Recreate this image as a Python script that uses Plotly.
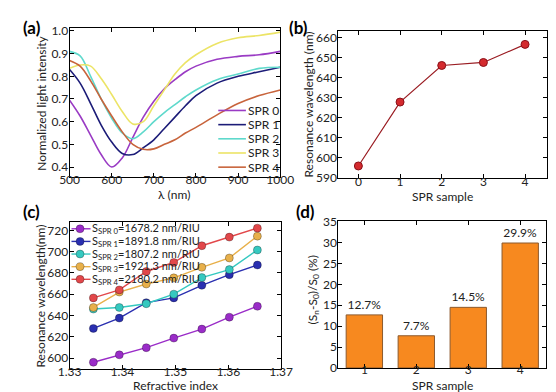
import plotly.graph_objects as go

# ---------- data ----------
wavelength = [500, 525, 550, 575, 600, 625, 650, 675, 700, 725, 750, 775, 800, 850, 900, 950, 1000]
spr0_int = [0.695, 0.625, 0.54, 0.455, 0.40, 0.44, 0.53, 0.62, 0.69, 0.745, 0.785, 0.82, 0.845, 0.875, 0.888, 0.895, 0.91]
spr1_int = [0.83, 0.77, 0.68, 0.585, 0.51, 0.46, 0.455, 0.485, 0.52, 0.57, 0.62, 0.67, 0.715, 0.77, 0.80, 0.82, 0.84]
spr2_int = [0.91, 0.89, 0.80, 0.70, 0.615, 0.55, 0.525, 0.555, 0.60, 0.64, 0.675, 0.71, 0.74, 0.785, 0.81, 0.835, 0.84]
spr3_int = [0.835, 0.85, 0.845, 0.79, 0.72, 0.645, 0.59, 0.60, 0.67, 0.74, 0.81, 0.86, 0.895, 0.945, 0.97, 0.98, 0.995]
spr4_int = [0.87, 0.845, 0.78, 0.70, 0.625, 0.555, 0.50, 0.478, 0.48, 0.50, 0.52, 0.55, 0.575, 0.63, 0.68, 0.715, 0.74]
spectra_names = ["SPR 0", "SPR 1", "SPR 2", "SPR 3", "SPR 4"]

samples = [0, 1, 2, 3, 4]
resonance = [596, 627.8, 646, 647.5, 656.5]

ref_index = [1.3345, 1.3394, 1.3445, 1.3497, 1.3550, 1.3602, 1.3655]
spr0_res = [596, 603, 609.7, 618.7, 627.2, 638.4, 648.6]
spr1_res = [627.8, 637.5, 652, 656.5, 668.3, 678.3, 687.4]
spr2_res = [646, 647.5, 651, 660, 675.6, 683.1, 701.5]
spr3_res = [647.5, 662, 669.5, 675.3, 685.2, 694, 714.5]
spr4_res = [656.5, 664, 681.3, 689.8, 705.5, 713.6, 722]
sens_labels = ["1678.2", "1891.8", "1807.2", "1921.3", "2180.2"]

bar_samples = [1, 2, 3, 4]
enhancement = [12.7, 7.7, 14.5, 29.9]

# ---------- styling ----------
W, H = 556, 392
FONT = "Lato"
a_colors = ["#9a3bc4", "#1c1c78", "#5fd9cc", "#ece466", "#c8643c"]
c_colors = ["#9a2cc8", "#2a2fb0", "#35c9c0", "#e8b04a", "#e2474a"]

def px_x(a, b):
    return [a / W, b / W]

def px_y(top, bottom):
    return [1 - bottom / H, 1 - top / H]

fig = go.Figure()

# Panel (a)
for name, ys, col in zip(spectra_names,
                         [spr0_int, spr1_int, spr2_int, spr3_int, spr4_int], a_colors):
    fig.add_trace(go.Scatter(x=wavelength, y=ys, mode="lines", name=name, showlegend=False,
                             line=dict(color=col, width=1.6, shape="spline", smoothing=1.0),
                             xaxis="x", yaxis="y"))

# Panel (b)
fig.add_trace(go.Scatter(x=samples, y=resonance, mode="lines+markers", showlegend=False,
                         line=dict(color="#9a1c22", width=1.2),
                         marker=dict(color="#d42a2e", size=8, line=dict(color="#8a1018", width=1)),
                         xaxis="x2", yaxis="y2"))

# Panel (c)
c_names = [f"S<sub>SPR {i}</sub>={s} nm/RIU" for i, s in enumerate(sens_labels)]
for ys, col, nm in zip([spr0_res, spr1_res, spr2_res, spr3_res, spr4_res], c_colors, c_names):
    fig.add_trace(go.Scatter(x=ref_index, y=ys, mode="lines+markers", name=nm, showlegend=False,
                             line=dict(color=col, width=1.4),
                             marker=dict(color=col, size=8, line=dict(color="rgba(0,0,0,0.35)", width=0.8)),
                             xaxis="x3", yaxis="y3"))

# Panel (d)
fig.add_trace(go.Bar(x=bar_samples, y=enhancement, width=0.7, showlegend=False,
                     marker=dict(color="#f7891f", line=dict(color="#8c5a2e", width=1)),
                     text=[f"{v}%" for v in enhancement], textposition="outside",
                     textfont=dict(size=12, color="#222", family=FONT), cliponaxis=False,
                     xaxis="x4", yaxis="y4"))

axis_common = dict(showline=True, linecolor="black", linewidth=1, mirror="ticks",
                   ticks="inside", ticklen=4, tickcolor="black", showgrid=False, zeroline=False,
                   tickfont=dict(family=FONT, size=12, color="#222"))
xa = dict(ticklabelstandoff=-8, **axis_common)
xb = dict(ticklabelstandoff=-9, **axis_common)
ya = dict(ticklabelstandoff=-2, **axis_common)

fig.update_layout(
    width=W, height=H, margin=dict(l=0, r=0, t=0, b=0),
    paper_bgcolor="white", plot_bgcolor="white",
    font=dict(family=FONT, size=12, color="#222"),
    showlegend=False,
    xaxis=dict(domain=px_x(52, 273), range=[500, 1000], dtick=100, anchor="y", **xa),
    yaxis=dict(domain=px_y(13.5, 168), range=[0.356, 1.013], dtick=0.1, tickformat=".1f", anchor="x", **ya),
    xaxis2=dict(domain=px_x(334, 553), range=[-0.48, 4.53], dtick=1, anchor="y2", **xa),
    yaxis2=dict(domain=px_y(16.5, 169.5), range=[589.8, 663.2], dtick=10, anchor="x2", **ya),
    xaxis3=dict(domain=px_x(52, 274), range=[1.33, 1.37], dtick=0.01, tickformat=".2f", anchor="y3", **xb),
    yaxis3=dict(domain=px_y(215, 367.3), range=[589.5, 727.5], dtick=20, anchor="x3", **ya),
    xaxis4=dict(domain=px_x(334, 552), range=[0.5, 4.5], dtick=1, anchor="y4", **xb),
    yaxis4=dict(domain=px_y(213.5, 366), range=[0, 35.2], dtick=5, anchor="x4", **ya),
)

def note(text, x, y, size=12, angle=0, bold=False, anchor="center"):
    fig.add_annotation(text=f"<b>{text}</b>" if bold else text, x=x / W, y=1 - y / H,
                       xref="paper", yref="paper", xanchor=anchor, yanchor="middle",
                       showarrow=False, textangle=angle, borderpad=0,
                       font=dict(size=size, family=FONT, color="black" if bold else "#222"))

# axis titles
note("λ (nm)", 162, 186)
note("Normalized light intensity", 23, 91, angle=-90)
note("SPR sample", 443, 188)
note("Resonance wavelength (nm)", 303, 93, angle=-90)
note("Refractive index", 163, 384.5)
note("Resonance wavelength(nm)", 22, 291, angle=-90)
note("SPR sample", 443, 384.5)
note("(S<sub>n</sub>-S<sub>0</sub>)/S<sub>0</sub> (%)", 308, 285, angle=-90)

# panel labels
for txt, x, y in [("(a)", 2, 13), ("(b)", 281, 13), ("(c)", 2, 204), ("(d)", 288, 204)]:
    note(txt, x, y, size=17, bold=True, anchor="left")

# legend for (a): line sample + label
for i, (name, col) in enumerate(zip(spectra_names, a_colors)):
    yc = 99 + 14.7 * i
    fig.add_shape(type="line", xref="paper", yref="paper", x0=208 / W, x1=237 / W,
                  y0=1 - yc / H, y1=1 - yc / H, line=dict(color=col, width=1.6))
    note(name, 238, yc, anchor="left")

# legend for (c): line + marker sample + label
for i, (name, col) in enumerate(zip(c_names, c_colors)):
    yc = 221.7 + 13.1 * i
    fig.add_shape(type="line", xref="paper", yref="paper", x0=54 / W, x1=74 / W,
                  y0=1 - yc / H, y1=1 - yc / H, line=dict(color=col, width=1.4))
    fig.add_shape(type="circle", xref="paper", yref="paper", xsizemode="pixel", ysizemode="pixel",
                  xanchor=63 / W, yanchor=1 - yc / H, x0=-4, x1=4, y0=-4, y1=4,
                  fillcolor=col, line=dict(color="rgba(0,0,0,0.35)", width=0.8))
    note(name, 74, yc, size=11, anchor="left")

fig.write_html("out.html")
